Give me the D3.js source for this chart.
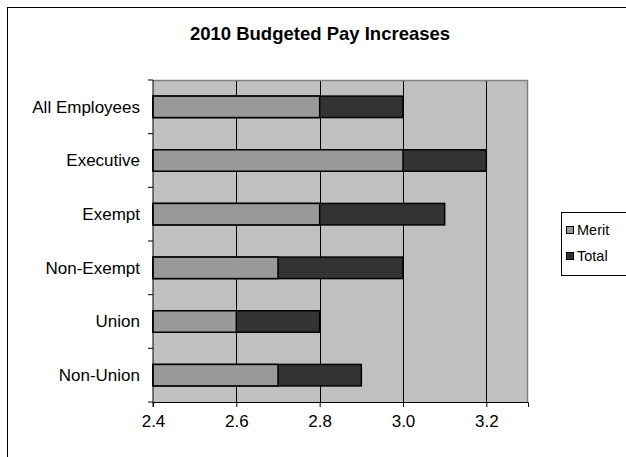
<!DOCTYPE html>
<html>
<head>
<meta charset="utf-8">
<script src="https://cdn.jsdelivr.net/npm/d3@7"></script>
<style>
  html, body { margin: 0; padding: 0; background: #fff; }
  svg { display: block; font-family: "Liberation Sans", Arial, sans-serif; }
</style>
</head>
<body>
<div id="chart"></div>
<script>
// data
const categories = ['All Employees', 'Executive', 'Exempt', 'Non-Exempt', 'Union', 'Non-Union'];
const merit = [2.8, 3.0, 2.8, 2.7, 2.6, 2.7];
const total = [3.0, 3.2, 3.1, 3.0, 2.8, 2.9];
const xTicks = [2.4, 2.6, 2.8, 3.0, 3.2];
const seriesNames = ['Merit', 'Total'];

const width = 626, height = 457;
const margin = { top: 80, right: 98, bottom: 55, left: 153 };

const svg = d3.select('#chart').append('svg')
  .attr('width', width).attr('height', height);

// outer chart frame (runs off the right and bottom)
svg.append('rect')
  .attr('x', 7.5).attr('y', 7.5)
  .attr('width', 660).attr('height', 500)
  .attr('fill', '#fff').attr('stroke', '#000').attr('stroke-width', 1);

svg.append('text')
  .attr('x', 320).attr('y', 40)
  .attr('text-anchor', 'middle')
  .style('font-size', '18.5px').style('font-weight', 'bold')
  .text('2010 Budgeted Pay Increases');

const x = d3.scaleLinear()
  .domain([2.4, 3.3])
  .range([margin.left, width - margin.right]);

const y = d3.scaleBand()
  .domain(categories)
  .range([margin.top, height - margin.bottom])
  .paddingInner(0.6)
  .paddingOuter(0.3);

const x0 = x.range()[0], x1 = x.range()[1];
const y0 = y.range()[0], y1 = y.range()[1];

// plot background
svg.append('rect')
  .attr('x', x0).attr('y', y0)
  .attr('width', x1 - x0).attr('height', y1 - y0)
  .attr('fill', '#c0c0c0');

// vertical grid lines
svg.append('g').selectAll('line')
  .data(xTicks.slice(1))
  .join('line')
  .attr('x1', d => Math.round(x(d)) + 0.5).attr('x2', d => Math.round(x(d)) + 0.5)
  .attr('y1', y0).attr('y2', y1)
  .attr('stroke', '#000').attr('stroke-width', 1);

// plot frame, top and right in gray
svg.append('path')
  .attr('d', `M${x0},${y0 + 0.5}H${x1 - 0.5}V${y1}`)
  .attr('fill', 'none').attr('stroke', '#808080').attr('stroke-width', 1.5);

const rows = categories.map((c, i) => ({ c, merit: merit[i], total: total[i] }));

// totals first, merit drawn over them
svg.append('g').selectAll('rect')
  .data(rows)
  .join('rect')
  .attr('x', x(2.4))
  .attr('y', d => y(d.c))
  .attr('width', d => x(d.total) - x(2.4))
  .attr('height', y.bandwidth())
  .attr('fill', '#333333')
  .attr('stroke', '#000').attr('stroke-width', 1.5);

svg.append('g').selectAll('rect')
  .data(rows)
  .join('rect')
  .attr('x', x(2.4))
  .attr('y', d => y(d.c))
  .attr('width', d => x(d.merit) - x(2.4))
  .attr('height', y.bandwidth())
  .attr('fill', '#999999')
  .attr('stroke', '#000').attr('stroke-width', 1.5);

// x axis
const xAxis = svg.append('g')
  .attr('transform', `translate(0,${y1})`)
  .call(d3.axisBottom(x).tickValues(xTicks).tickFormat(d3.format('.1f')).tickSizeOuter(0).tickSize(5).tickPadding(8));
xAxis.select('.domain').attr('stroke', '#000');
xAxis.selectAll('.tick text').style('font-size', '17px').attr('fill', '#000')
  .style('font-family', '"Liberation Sans", Arial, sans-serif');

// y axis: labels in band centres, ticks on band boundaries
const yAxis = svg.append('g').attr('transform', `translate(${x0},0)`);
yAxis.append('line')
  .attr('x1', 0).attr('x2', 0).attr('y1', y0).attr('y2', y1 + 5)
  .attr('stroke', '#000');
const step = y.step();
yAxis.selectAll('line.tk')
  .data(d3.range(categories.length + 1))
  .join('line')
  .attr('class', 'tk')
  .attr('x1', -5).attr('x2', 0)
  .attr('y1', i => y0 + i * step).attr('y2', i => y0 + i * step)
  .attr('stroke', '#000');
yAxis.selectAll('text')
  .data(categories)
  .join('text')
  .attr('x', -13)
  .attr('y', d => y(d) + y.bandwidth() / 2)
  .attr('dy', '0.35em')
  .attr('text-anchor', 'end')
  .style('font-size', '17px')
  .text(d => d);

// legend
const legend = svg.append('g');
legend.append('rect')
  .attr('x', 561.5).attr('y', 212.5)
  .attr('width', 80).attr('height', 63)
  .attr('fill', '#fff').attr('stroke', '#000');
const fills = ['#999999', '#333333'];
const li = legend.selectAll('g.item')
  .data(seriesNames)
  .join('g')
  .attr('class', 'item')
  .attr('transform', (d, i) => `translate(566,${230 + i * 26})`);
li.append('rect')
  .attr('x', 0.5).attr('y', -3.5)
  .attr('width', 7).attr('height', 7)
  .attr('fill', (d, i) => fills[i]).attr('stroke', '#000');
li.append('text')
  .attr('x', 11).attr('dy', '0.35em')
  .style('font-size', '14.5px')
  .text(d => d);
</script>
</body>
</html>
